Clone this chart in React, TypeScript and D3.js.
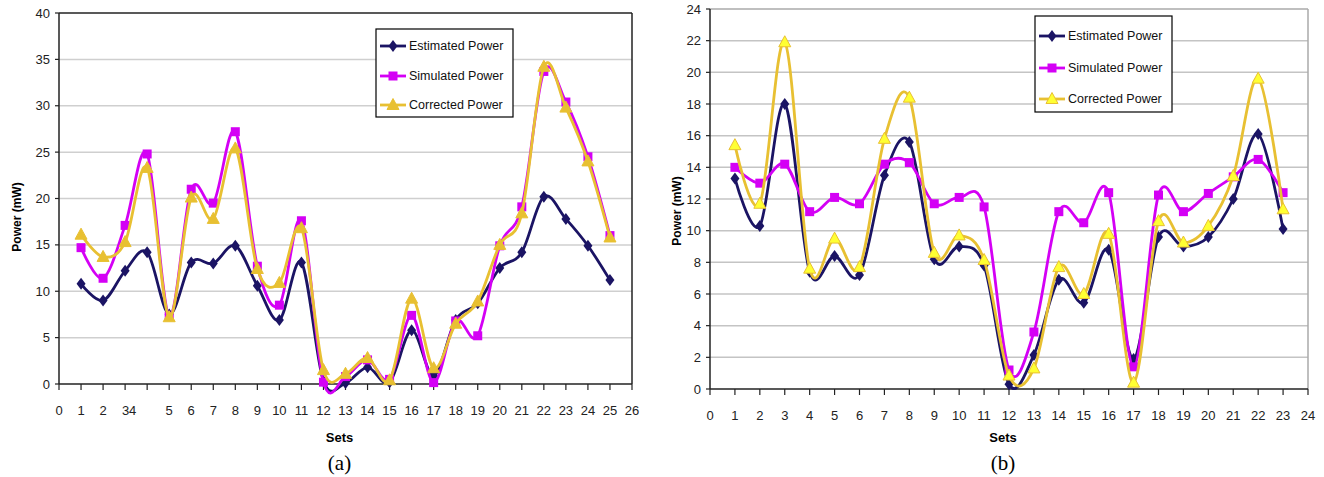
import React from 'react';
import * as d3 from 'd3';

// chart (a)
const setsA = d3.range(1, 26);
const estimatedA = [10.8, 9.0, 12.2, 14.2, 7.5, 13.1, 13.0, 14.9, 10.6, 6.9, 13.1, 0.3, 0.1, 1.8, 0.2, 5.8, 0.9, 6.9, 8.7, 12.5, 14.2, 20.2, 17.8, 14.9, 11.2];
const simulatedA = [14.7, 11.4, 17.1, 24.8, 7.3, 21.0, 19.5, 27.2, 12.7, 8.5, 17.6, 0.2, 0.8, 2.6, 0.5, 7.4, 0.15, 6.8, 5.2, 14.9, 19.1, 33.7, 30.4, 24.5, 16.0];
const correctedA = [16.1, 13.7, 15.3, 23.3, 7.2, 20.1, 17.8, 25.4, 12.4, 10.9, 16.8, 1.5, 1.1, 2.8, 0.4, 9.2, 1.7, 6.5, 8.9, 15.0, 18.4, 34.2, 29.8, 24.0, 15.8];
const xLabelsA = ['0', '1', '2', '34', '', '5', '6', '7', '8', '9', '10', '11', '12', '13', '14', '15', '16', '17', '18', '19', '20', '21', '22', '23', '24', '25', '26'];
const yTicksA = [0, 5, 10, 15, 20, 25, 30, 35, 40];

// chart (b)
const setsB = d3.range(1, 24);
const estimatedB = [13.3, 10.3, 18.0, 7.4, 8.4, 7.2, 13.5, 15.6, 8.2, 9.0, 7.8, 0.3, 2.15, 6.9, 5.45, 8.8, 1.9, 9.6, 9.0, 9.6, 12.0, 16.1, 10.1];
const simulatedB = [14.0, 13.0, 14.2, 11.2, 12.1, 11.7, 14.2, 14.3, 11.7, 12.1, 11.5, 1.2, 3.6, 11.2, 10.5, 12.4, 1.4, 12.25, 11.2, 12.35, 13.4, 14.5, 12.4];
const correctedB = [15.4, 11.7, 21.9, 7.6, 9.5, 7.7, 15.8, 18.4, 8.6, 9.7, 8.15, 0.85, 1.3, 7.7, 6.0, 9.8, 0.4, 10.6, 9.25, 10.3, 13.45, 19.6, 11.35];
const xLabelsB = d3.range(0, 25).map(String);
const yTicksB = d3.range(0, 25, 2);

const seriesNames = ['Estimated Power', 'Simulated Power', 'Corrected Power'];
const NAVY = '#1b1464';
const MAGENTA = '#d400f5';
const GOLD = '#e8c032';

const FONT = 'Liberation Sans, Arial, sans-serif';

type PanelProps = {
  x0: number; x1: number; y0: number; y1: number;
  xMax: number; yMax: number;
  sets: number[];
  series: number[][];
  xLabels: string[];
  yTicks: number[];
  triFill: string;
  gridColor: string;
  frameColor: string;
  legend: { x: number; y: number; w: number; h: number; rows: number[] };
  title: { x: number; y: number };
  caption: string;
};

function Marker({ kind, x, y, fill }: { kind: number; x: number; y: number; fill: string }) {
  if (kind === 0) {
    return <path d={`M${x},${y - 6}L${x + 4.5},${y}L${x},${y + 6}L${x - 4.5},${y}Z`} fill={NAVY} />;
  }
  if (kind === 1) {
    return <rect x={x - 4.5} y={y - 4.5} width={9} height={9} fill={MAGENTA} />;
  }
  return <path d={`M${x},${y - 6.5}L${x + 6},${y + 4.5}L${x - 6},${y + 4.5}Z`} fill={fill} stroke={GOLD} strokeWidth={1} />;
}

function Panel(p: PanelProps) {
  const x = d3.scaleLinear().domain([0, p.xMax]).range([p.x0, p.x1]);
  const y = d3.scaleLinear().domain([0, p.yMax]).range([p.y1, p.y0]);
  const line = d3.line<number>()
    .x((_, i) => x(p.sets[i]))
    .y(d => y(d))
    .curve(d3.curveCatmullRom.alpha(0));
  const colors = [NAVY, MAGENTA, GOLD];
  const xTicks = d3.range(0, p.xMax + 1);
  const lg = p.legend;
  const midX = (p.x0 + p.x1) / 2 - 6;
  return (
    <g fontFamily={FONT}>
      {p.yTicks.filter(t => t > 0 && t < p.yMax).map(t => (
        <line key={t} x1={p.x0} x2={p.x1} y1={y(t)} y2={y(t)} stroke={p.gridColor} strokeWidth={1.5} />
      ))}
      <line x1={p.x0} x2={p.x1} y1={p.y0} y2={p.y0} stroke={p.frameColor} strokeWidth={1.5} />
      <line x1={p.x1} x2={p.x1} y1={p.y0} y2={p.y1} stroke={p.frameColor} strokeWidth={1.5} />
      {/* y axis */}
      <line x1={p.x0} x2={p.x0} y1={p.y0} y2={p.y1} stroke="#222" strokeWidth={1.5} />
      {p.yTicks.map(t => (
        <g key={t}>
          <line x1={p.x0 - 4} x2={p.x0} y1={y(t)} y2={y(t)} stroke="#222" strokeWidth={1.2} />
          <text x={p.x0 - 9} y={y(t)} dy="0.35em" textAnchor="end" fontSize={13} fill="#222">{t}</text>
        </g>
      ))}
      {/* x axis */}
      <line x1={p.x0} x2={p.x1} y1={p.y1} y2={p.y1} stroke="#222" strokeWidth={1.5} />
      {xTicks.map(t => (
        <g key={t}>
          <line x1={x(t)} x2={x(t)} y1={p.y1} y2={p.y1 + 6} stroke="#222" strokeWidth={1.2} />
          <text x={x(t) + (p.xLabels[t].length > 1 && t < 10 ? 4 : 0)} y={p.y1 + 31} textAnchor="middle" fontSize={13} fill="#222">{p.xLabels[t]}</text>
        </g>
      ))}
      {p.series.map((s, k) => (
        <g key={k}>
          <path d={line(s) || ''} fill="none" stroke={colors[k]} strokeWidth={2.8} />
          {s.map((v, i) => (
            <Marker key={i} kind={k} x={x(p.sets[i])} y={y(v)} fill={p.triFill} />
          ))}
        </g>
      ))}
      <text transform={`translate(${p.title.x},${p.title.y}) rotate(-90)`} textAnchor="middle" fontSize={12} fontWeight="bold" fill="#000">Power (mW)</text>
      <text x={midX} y={442} textAnchor="middle" fontSize={13} fontWeight="bold" fill="#000">Sets</text>
      <text x={midX} y={470} textAnchor="middle" fontSize={21} fontFamily="Liberation Serif, Times New Roman, serif" fill="#000">{p.caption}</text>
      <rect x={lg.x} y={lg.y} width={lg.w} height={lg.h} fill="#fff" stroke="#000" strokeWidth={1.2} />
      {seriesNames.map((n, k) => (
        <g key={n}>
          <line x1={lg.x + 4} x2={lg.x + 30} y1={lg.rows[k]} y2={lg.rows[k]} stroke={colors[k]} strokeWidth={2.8} />
          <Marker kind={k} x={lg.x + 17} y={lg.rows[k]} fill={p.triFill} />
          <text x={lg.x + 33} y={lg.rows[k]} dy="0.35em" fontSize={12.5} fill="#111">{n}</text>
        </g>
      ))}
    </g>
  );
}

export default function App() {
  return (
    <svg width={1324} height={477} style={{ position: 'absolute', left: 0, top: 0, background: '#fff' }}>
      <rect width={1324} height={477} fill="#fff" />
      <Panel
        x0={59} x1={632} y0={13} y1={384}
        xMax={26} yMax={40}
        sets={setsA}
        series={[estimatedA, simulatedA, correctedA]}
        xLabels={xLabelsA}
        yTicks={yTicksA}
        triFill={GOLD}
        gridColor="#cfcfcf"
        frameColor="#222"
        legend={{ x: 376, y: 29, w: 137, h: 88, rows: [46, 76, 105] }}
        title={{ x: 21, y: 217 }}
        caption="(a)"
      />
      <Panel
        x0={710} x1={1308} y0={9} y1={389}
        xMax={24} yMax={24}
        sets={setsB}
        series={[estimatedB, simulatedB, correctedB]}
        xLabels={xLabelsB}
        yTicks={yTicksB}
        triFill="#ffff33"
        gridColor="#c4c4c4"
        frameColor="#aaa"
        legend={{ x: 1035, y: 16, w: 137, h: 96, rows: [36, 68, 99] }}
        title={{ x: 681, y: 211 }}
        caption="(b)"
      />
    </svg>
  );
}
